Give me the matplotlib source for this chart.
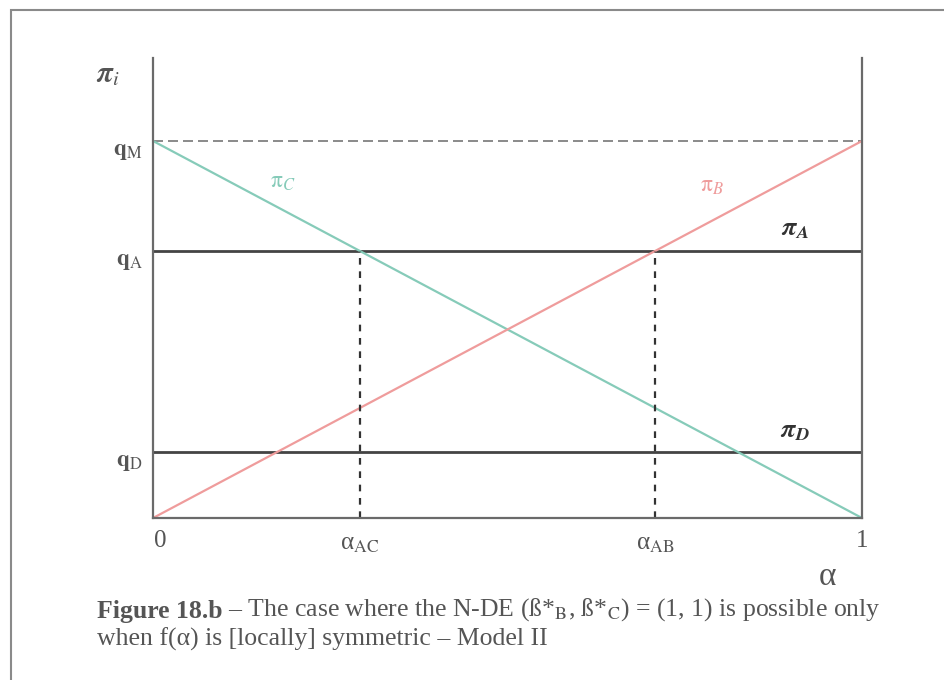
import numpy as np
import matplotlib.pyplot as plt
from matplotlib.patches import Rectangle

plt.rcParams['font.family'] = ['Liberation Serif', 'DejaVu Serif']
plt.rcParams['mathtext.fontset'] = 'stix'

# payoff levels (q_M normalised to 1)
q_M = 1.0
q_A = 0.708
q_D = 0.175
alpha = [0.0, 1.0]
pi_C = [q_M, 0.0]
pi_B = [0.0, q_M]
alpha_AC = 1 - q_A
alpha_AB = q_A

fig = plt.figure(figsize=(9.45, 6.8), dpi=100)
ax = fig.add_axes([0.1619, 0.2382, 0.7503, 0.6765])
ax.set_xlim(0, 1)
ax.set_ylim(0, 1.22)

grey = '#6a6a6a'
dark = '#444444'
teal = '#86cbb9'
pink = '#ef9c9c'

ax.spines['top'].set_visible(False)
for s in ['left', 'right', 'bottom']:
    ax.spines[s].set_color(grey)
    ax.spines[s].set_linewidth(1.6)
ax.set_xticks([])
ax.set_yticks([])

ax.plot([0, 1], [q_M, q_M], color='#777777', lw=1.2, ls=(0, (6, 3)))
ax.plot([0, 1], [q_A, q_A], color=dark, lw=2.0)
ax.plot([0, 1], [q_D, q_D], color=dark, lw=2.0)
ax.plot(alpha, pi_C, color=teal, lw=1.6)
ax.plot(alpha, pi_B, color=pink, lw=1.6)
ax.plot([alpha_AC, alpha_AC], [0, q_A], color='#333333', lw=1.6, ls=(0, (3, 3)))
ax.plot([alpha_AB, alpha_AB], [0, q_A], color='#333333', lw=1.6, ls=(0, (3, 3)))

tc = '#555555'
fs = 18
ax.text(-0.063, 1.175, r'$\boldsymbol{\pi}_i$', fontsize=21, color=tc, ha='center', va='center')
for y, lab in [(q_M, 'M'), (q_A, 'A'), (q_D, 'D')]:
    ax.text(-0.014, y - 0.028, r'$\mathbf{q}_{\mathrm{%s}}$' % lab, fontsize=17, color=tc,
            ha='right', va='center')

ax.text(0.183, 0.889, r'$\mathrm{\pi}_{C}$', fontsize=17, color=teal, ha='center', va='center')
ax.text(0.788, 0.878, r'$\mathrm{\pi}_{B}$', fontsize=17, color=pink, ha='center', va='center')
ax.text(0.905, 0.764, r'$\boldsymbol{\pi}_{\boldsymbol{A}}$', fontsize=19, color='#333333', ha='center', va='center')
ax.text(0.905, 0.228, r'$\boldsymbol{\pi}_{\boldsymbol{D}}$', fontsize=19, color='#333333', ha='center', va='center')

ax.text(0.01, -0.06, '0', fontsize=fs, color=tc, ha='center', va='center')
ax.text(1.0, -0.06, '1', fontsize=fs, color=tc, ha='center', va='center')
ax.text(alpha_AC, -0.07, r'α$_{\mathrm{AC}}$', fontsize=fs, color=tc, ha='center', va='center')
ax.text(alpha_AB, -0.07, r'α$_{\mathrm{AB}}$', fontsize=fs, color=tc, ha='center', va='center')
ax.text(0.952, -0.157, 'α', fontsize=24, color=tc, ha='center', va='center')

cap = '#555555'
t1 = fig.text(97 / 945, 1 - 618 / 680, 'Figure 18.b', fontsize=18.5, fontweight='bold', color=cap,
              ha='left', va='baseline')
fig.canvas.draw()
ax.annotate(r' – The case where the N-DE (ß*$_{\mathrm{B}}$, ß*$_{\mathrm{C}}$) = (1, 1) is possible only',
            xy=(1, 0), xycoords=t1, va='bottom', ha='left', fontsize=18.5, color=cap,
            annotation_clip=False)
fig.text(97 / 945, 1 - 646 / 680, 'when f(α) is [locally] symmetric – Model II', fontsize=18.5, color=cap,
         ha='left', va='baseline')

# outer frame
fig.add_artist(Rectangle((11 / 945, -0.05), 1.1, 1 - 10 / 680 + 0.05, transform=fig.transFigure,
                         fill=False, edgecolor='#8a8a8a', lw=1.5))

fig.savefig('out.png', dpi=100)
